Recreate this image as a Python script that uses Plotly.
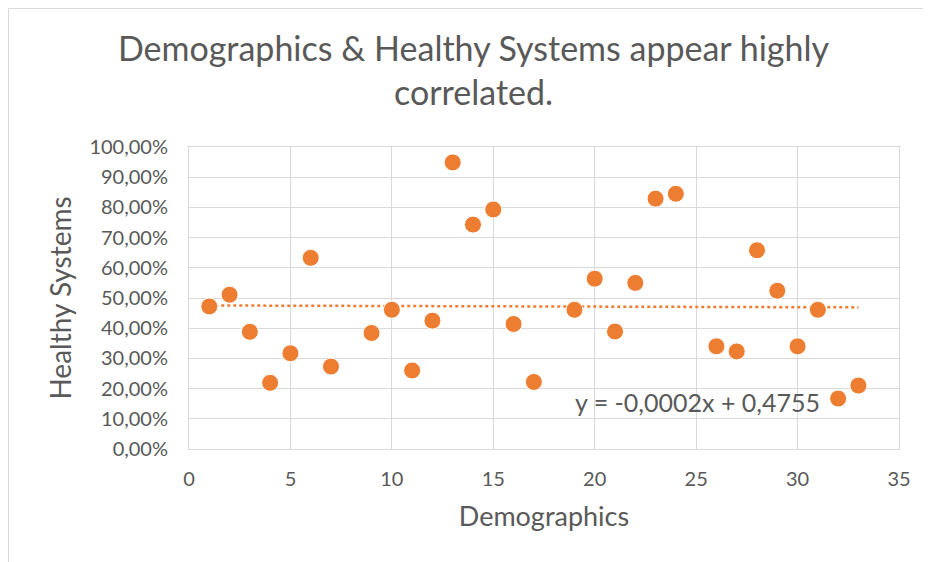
import plotly.graph_objects as go

demographics = [1, 2, 3, 4, 5, 6, 7, 9, 10, 11, 12, 13, 14, 15, 16, 17, 19, 20, 21, 22,
                23, 24, 26, 27, 28, 29, 30, 31, 32, 33]
healthy = [0.472, 0.511, 0.388, 0.219, 0.317, 0.633, 0.273, 0.384, 0.461, 0.260,
           0.425, 0.949, 0.743, 0.793, 0.414, 0.222, 0.461, 0.564, 0.389, 0.550,
           0.829, 0.845, 0.340, 0.323, 0.658, 0.524, 0.340, 0.461, 0.167, 0.210]
x_ticks = [0, 5, 10, 15, 20, 25, 30, 35]
y_ticks = [i / 10 for i in range(11)]
title_text = "Demographics & Healthy Systems appear highly<br>correlated."
equation_text = "y = -0,0002x + 0,4755"

slope, intercept = -0.0002, 0.4755
trend_x = [min(demographics), max(demographics)]
trend_y = [slope * v + intercept for v in trend_x]

FONT = "Lato, 'Open Sans', sans-serif"
GREY = "#595959"
ORANGE = "#ED7D31"
BORDER = "#d9d9d9"

W, H = 931, 562
ML, MR, MT, MB = 181, 40, 139, 121
PW, PH = W - ML - MR, H - MT - MB

fig = go.Figure()
fig.add_trace(go.Scatter(
    x=trend_x, y=trend_y, mode="lines",
    line=dict(color=ORANGE, width=2.5, dash="dot"),
    hoverinfo="skip", showlegend=False))
fig.add_trace(go.Scatter(
    x=demographics, y=healthy, mode="markers",
    marker=dict(color=ORANGE, size=17, line=dict(color="white", width=1)),
    showlegend=False))

fig.add_annotation(x=31.2, y=0.157, xref="x", yref="y", text=equation_text,
                   showarrow=False, xanchor="right", yanchor="middle",
                   font=dict(family=FONT, size=25, color=GREY))

# chart-area border (left and top edges visible)
x_left = (0.5 - ML) / PW
y_top = 1 + (MT - 0.5) / PH
y_bot = -(MB + 10) / PH
x_right = (W + 10 - ML) / PW
fig.add_shape(type="line", xref="paper", yref="paper", x0=x_left, x1=x_left,
              y0=y_top, y1=y_bot, line=dict(color=BORDER, width=1))
fig.add_shape(type="line", xref="paper", yref="paper", x0=x_left, x1=x_right,
              y0=y_top, y1=y_top, line=dict(color=BORDER, width=1))

fig.update_layout(
    width=W, height=H,
    paper_bgcolor="white", plot_bgcolor="white",
    separators=", ",
    margin=dict(l=ML, r=MR, t=MT, b=MB, autoexpand=False),
    title=dict(text=title_text, x=0.5, xanchor="center", y=0.906, yanchor="top",
               font=dict(family=FONT, size=34, color=GREY)),
    xaxis=dict(range=[0, 35], tickvals=x_ticks, showgrid=True, gridcolor=BORDER,
               gridwidth=1, zeroline=False, showline=True, linecolor=BORDER,
               mirror=True, ticks="", ticklabelstandoff=12,
               tickfont=dict(family=FONT, size=20, color=GREY),
               title=dict(text="Demographics", standoff=18,
                          font=dict(family=FONT, size=27, color=GREY))),
    yaxis=dict(range=[0, 1], tickvals=y_ticks, tickformat=".2%", showgrid=True,
               gridcolor=BORDER, gridwidth=1, zeroline=False, showline=True,
               linecolor=BORDER, mirror=True, ticks="", ticklabelstandoff=16,
               tickfont=dict(family=FONT, size=20, color=GREY),
               title=dict(text="Healthy Systems", standoff=9,
                          font=dict(family=FONT, size=28, color=GREY))),
)

fig.write_html("out.html")
